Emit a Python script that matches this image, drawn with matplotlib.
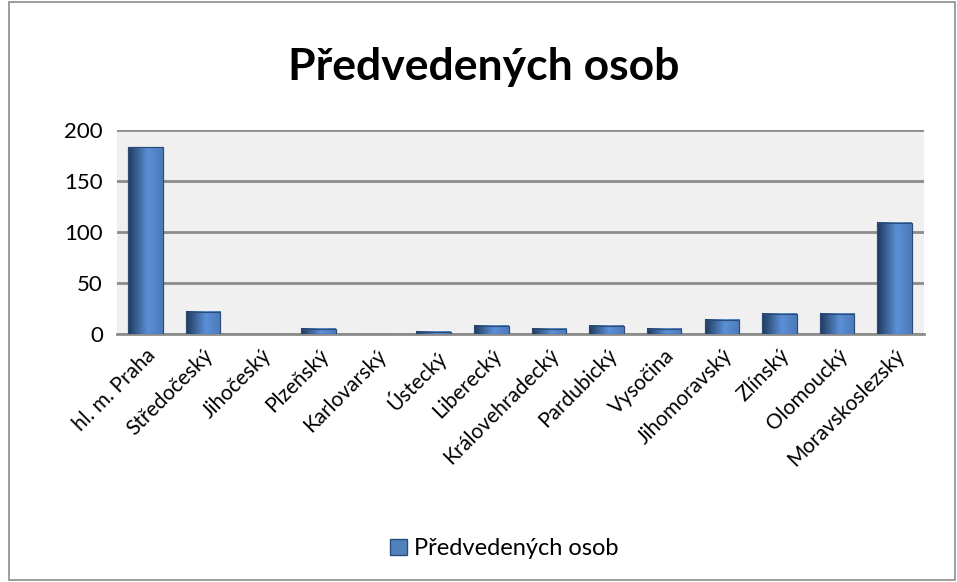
import numpy as np
import matplotlib.pyplot as plt
from matplotlib.patches import Rectangle
from matplotlib.colors import LinearSegmentedColormap

plt.rcParams['font.family'] = ['Lato', 'DejaVu Sans']

regions = ['hl. m. Praha', 'Středočeský', 'Jihočeský', 'Plzeňský', 'Karlovarský',
           'Ústecký', 'Liberecký', 'Královehradecký', 'Pardubický', 'Vysočina',
           'Jihomoravský', 'Zlínský', 'Olomoucký', 'Moravskoslezský']
counts = [183, 22, 0, 5, 0, 2, 8, 5, 8, 5, 14, 20, 20, 109]
series_name = 'Předvedených osob'

fig = plt.figure(figsize=(9.57, 5.82), dpi=100)
fig.patches.append(Rectangle((0.009, 0.004), 0.989, 0.992, transform=fig.transFigure,
                             fill=False, edgecolor='#8c8c8c', linewidth=1.2))
ax = fig.add_axes([0.122, 0.426, 0.843, 0.351])
ax.set_facecolor('#f0f0f0')

x = np.arange(len(regions))
bars = ax.bar(x, counts, width=0.6, color='#4f81bd', edgecolor='#2c4d75',
              linewidth=0.8, zorder=3, label=series_name)

# horizontal gradient inside each bar (dark edges, light centre)
grad = np.concatenate([np.linspace(0, 1, 40), np.linspace(1, 0.75, 30)]).reshape(1, -1)
cmap = LinearSegmentedColormap.from_list('bar', ['#1f3a5e', '#5b8fd6'])
for b in bars:
    h = b.get_height()
    if h <= 0:
        continue
    bx, bw = b.get_x(), b.get_width()
    ax.imshow(grad, cmap=cmap, aspect='auto', extent=[bx, bx + bw, 0, h],
              zorder=3.5, interpolation='bicubic')
    ax.add_patch(Rectangle((bx, 0), bw, h, fill=False, edgecolor='#2c4d75',
                           linewidth=0.8, zorder=4))

ax.set_xlim(-0.5, len(regions) - 0.5)
ax.set_ylim(0, 200)
ax.set_yticks([0, 50, 100, 150, 200])
ax.yaxis.grid(True, color='#8c8c8c', linewidth=2, zorder=1)
ax.set_axisbelow(True)
for s in ['top', 'right', 'left']:
    ax.spines[s].set_visible(False)
ax.spines['bottom'].set_color('#8c8c8c')
ax.spines['bottom'].set_linewidth(2)
ax.tick_params(axis='y', length=0, labelsize=16, pad=10)
ax.tick_params(axis='x', length=0, labelsize=15, pad=8)
ax.set_xticks(x)
ax.set_xticklabels(regions, rotation=45, ha='right', rotation_mode='anchor')

fig.text(0.505, 0.885, series_name, ha='center', va='center', fontsize=32,
         fontweight='bold')

handle = Rectangle((0, 0), 1, 1, facecolor='#4f81bd', edgecolor='#2c4d75')
fig.legend([handle], [series_name], loc='center', bbox_to_anchor=(0.527, 0.057),
           frameon=False, fontsize=17, handlelength=0.7, handleheight=0.7,
           handletextpad=0.3)

fig.savefig('out.png', dpi=100)
